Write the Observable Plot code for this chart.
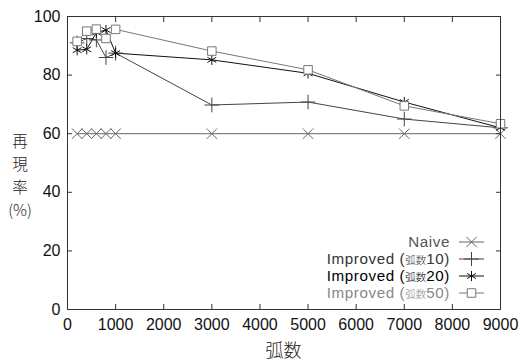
<!DOCTYPE html>
<html><head><meta charset="utf-8">
<script src="https://cdn.jsdelivr.net/npm/d3@7"></script>
<script src="https://cdn.jsdelivr.net/npm/@observablehq/plot@0.6"></script>
<style>
body{margin:0;background:#fff;}
#wrap{position:relative;width:523px;height:362px;font-family:"Liberation Sans",Arial,sans-serif;}
.ych{position:absolute;left:0;width:40px;text-align:center;font-family:"Noto Sans CJK JP",serif;font-weight:300;font-size:15.5px;line-height:20px;height:20px;color:#222;}
#xlab{position:absolute;left:0;width:523px;top:336px;height:26px;text-align:center;padding-left:44px;box-sizing:border-box;font-family:"Noto Sans CJK JP",serif;font-weight:300;font-size:18px;line-height:26px;color:#222;}
#legend{position:absolute;right:38px;top:233px;font-size:15.2px;line-height:17px;font-weight:normal;letter-spacing:0.6px;}
#legend .row{display:flex;align-items:center;justify-content:flex-end;height:17px;}
#legend .cjk{font-family:"Noto Sans CJK JP";font-size:10.5px;font-weight:300;letter-spacing:0;}
#legend svg{margin-left:8px;}
</style></head>
<body><div id="wrap"></div>
<script>
const arcs = [200, 400, 600, 800, 1000, 3000, 5000, 7000, 9000];
const naive = [60, 60, 60, 60, 60, 60, 60, 60, 60];
const imp10 = [91, 92.5, 92, 86, 87.5, 69.8, 70.8, 65, 62];
const imp20 = [88.5, 88.8, 94.5, 95.4, 87.5, 85.2, 80.6, 70.8, 62];
const imp50 = [91.5, 95, 95.7, 92.5, 95.6, 88.2, 81.8, 69.5, 63.4];
const xTicks = [0, 1000, 2000, 3000, 4000, 5000, 6000, 7000, 8000, 9000];
const yTicks = [0, 20, 40, 60, 80, 100];
const seriesNames = ["Naive", "Improved (弧数10)", "Improved (弧数20)", "Improved (弧数50)"];
const yLabelParts = ["再", "現", "率", "(%)"];
const xLabel = "弧数";

const series = [
  {name: seriesNames[0], values: naive, stroke: "#666", symbol: "times", text: "#555"},
  {name: seriesNames[1], values: imp10, stroke: "#444", symbol: "plus", text: "#333"},
  {name: seriesNames[2], values: imp20, stroke: "#111", symbol: "asterisk", text: "#000"},
  {name: seriesNames[3], values: imp50, stroke: "#777", symbol: "square", text: "#888"}
];

const marks = [];
for (const s of series) {
  const data = arcs.map((a, i) => ({x: a, y: s.values[i]}));
  marks.push(Plot.line(data, {x: "x", y: "y", stroke: s.stroke, strokeWidth: 1}));
}
for (const s of series) {
  const data = arcs.map((a, i) => ({x: a, y: s.values[i]}));
  marks.push(Plot.dot(data, {x: "x", y: "y", symbol: s.symbol, r: 4.8, stroke: s.stroke, strokeWidth: 1, fill: s.symbol === "square" ? "white" : "none"}));
}

const fmt = d => String(d);
const chart = Plot.plot({
  width: 523, height: 362,
  marginLeft: 67, marginRight: 23, marginTop: 16, marginBottom: 53,
  style: {fontFamily: "Liberation Sans, Arial, sans-serif", fontSize: "16px", color: "#111", background: "white"},
  x: {domain: [0, 9000]},
  y: {domain: [0, 100]},
  marks: [
    ...marks,
    Plot.frame({stroke: "#333"}),
    Plot.axisX(xTicks, {anchor: "bottom", tickSize: 0, tickPadding: 9, label: null, fontSize: 16, tickFormat: fmt}),
    Plot.axisX(xTicks, {anchor: "bottom", tickSize: -5, tickFormat: () => "", label: null, stroke: "#333"}),
    Plot.axisX(xTicks, {anchor: "top", tickSize: -5, tickFormat: () => "", label: null, stroke: "#333"}),
    Plot.axisY(yTicks, {anchor: "left", tickSize: 0, tickPadding: 7, label: null, fontSize: 16, tickFormat: fmt}),
    Plot.axisY(yTicks, {anchor: "left", tickSize: -5, tickFormat: () => "", label: null, stroke: "#333"}),
    Plot.axisY(yTicks, {anchor: "right", tickSize: -5, tickFormat: () => "", label: null, stroke: "#333"})
  ]
});
const wrap = document.getElementById("wrap");
wrap.appendChild(chart);

yLabelParts.forEach((t, i) => {
  const d = document.createElement("div");
  d.className = "ych";
  d.style.top = (130 + i * 23) + "px";
  d.textContent = t;
  wrap.appendChild(d);
});

const xlab = document.createElement("div");
xlab.id = "xlab";
xlab.textContent = xLabel;
wrap.appendChild(xlab);

const legend = document.createElement("div");
legend.id = "legend";
for (const s of series) {
  const row = document.createElement("div");
  row.className = "row";
  const label = document.createElement("span");
  label.style.color = s.text;
  const m = s.name.match(/^(.*\()(弧数)(.*)$/);
  if (m) {
    label.innerHTML = m[1] + '<span class="cjk">' + m[2] + '</span>' + m[3];
  } else label.textContent = s.name;
  row.appendChild(label);
  const svg = d3.create("svg").attr("width", 27).attr("height", 14);
  svg.append("line").attr("x1", 1).attr("x2", 26).attr("y1", 7).attr("y2", 7).attr("stroke", s.stroke);
  const symMap = {times: d3.symbolTimes, plus: d3.symbolPlus, asterisk: d3.symbolAsterisk, square: d3.symbolSquare};
  svg.append("path").attr("d", d3.symbol(symMap[s.symbol], 4.8 * 4.8 * Math.PI)()).attr("transform", "translate(13.5,7)")
    .attr("stroke", s.stroke).attr("fill", s.symbol === "square" ? "white" : "none");
  row.appendChild(svg.node());
  legend.appendChild(row);
}
wrap.appendChild(legend);
</script></body></html>
